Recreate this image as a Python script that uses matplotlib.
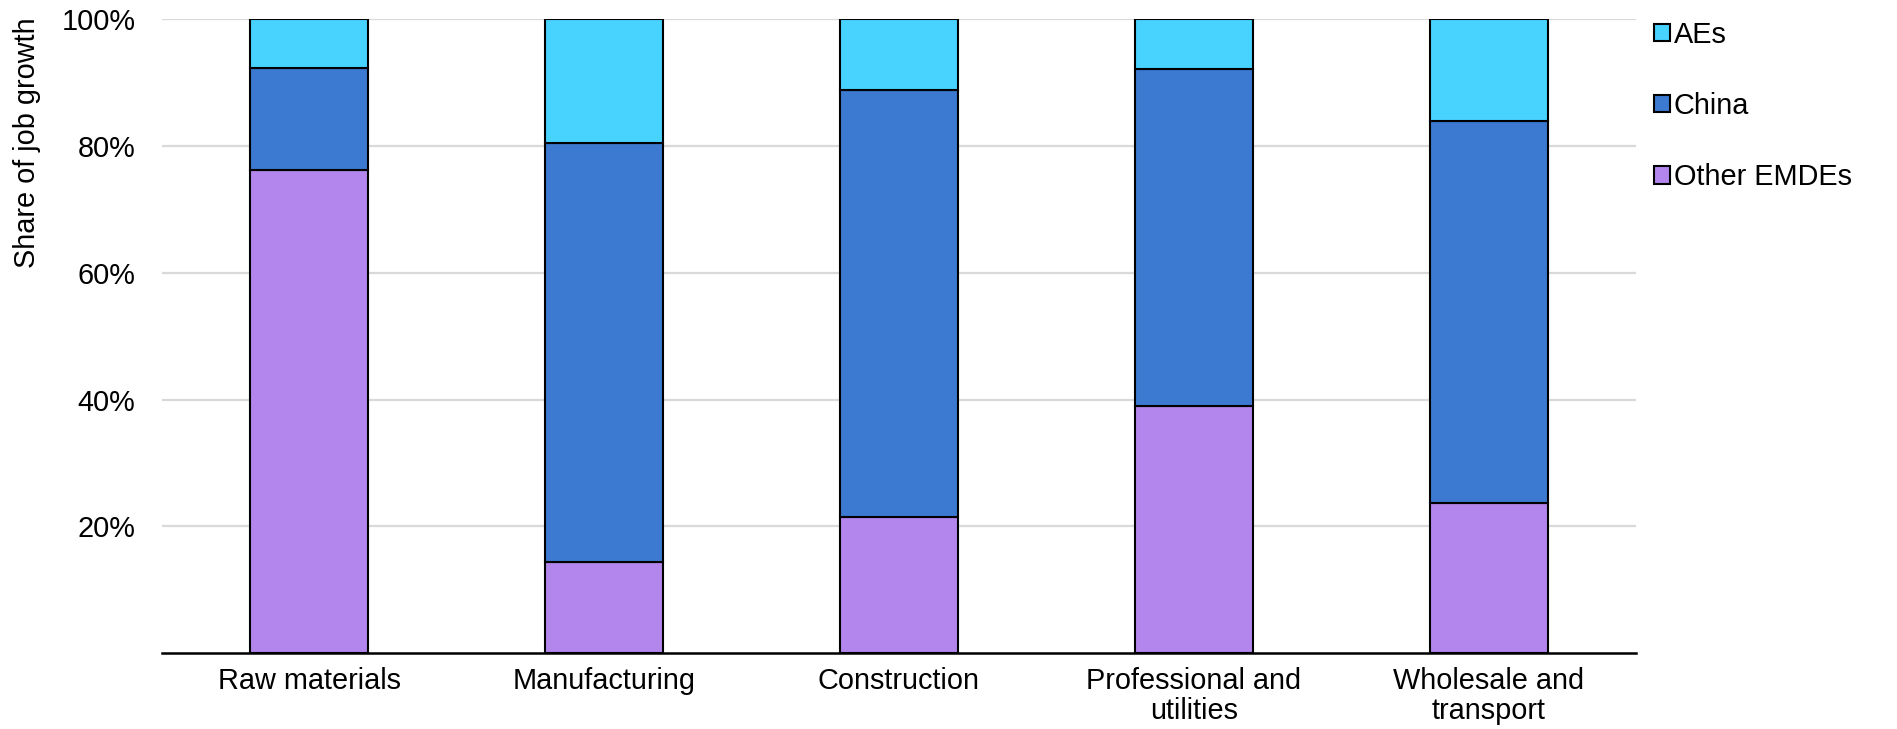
import numpy as np
import matplotlib
matplotlib.use("Agg")
import matplotlib.pyplot as plt
from matplotlib.ticker import FuncFormatter

plt.rcParams['font.family'] = ['Liberation Sans', 'DejaVu Sans']

# data (percent shares)
categories = ["Raw materials", "Manufacturing", "Construction",
              "Professional and\nutilities", "Wholesale and\ntransport"]
other_emdes = [76.3, 14.3, 21.5, 39.0, 23.6]
china = [16.1, 66.2, 67.4, 53.2, 60.3]
aes = [100 - o - c for o, c in zip(other_emdes, china)]

series_names = ["Other EMDEs", "China", "AEs"]
series_colors = ["#B286EC", "#3C79D1", "#48D3FF"]

fig = plt.figure(figsize=(18.97, 7.29), dpi=100)
ax = fig.add_axes([0.0854, 0.1043, 0.8624 - 0.0854, 0.9733 - 0.1043])

x = np.arange(len(categories))
bottom = np.zeros(len(categories))
bars = {}
for name, vals, col in zip(series_names, [other_emdes, china, aes], series_colors):
    bars[name] = ax.bar(x, vals, width=0.4, bottom=bottom, color=col,
                        edgecolor="black", linewidth=1.5, zorder=3, label=name)
    bottom = bottom + np.array(vals)

ax.set_xlim(-0.5, len(categories) - 0.5)
ax.set_ylim(0, 100)
ax.set_yticks([20, 40, 60, 80, 100])
ax.yaxis.set_major_formatter(FuncFormatter(lambda v, p: f"{v:.0f}%"))
ax.grid(axis="y", color="#d9d9d9", linewidth=1.6, zorder=0)
ax.set_axisbelow(True)

ax.set_xticks(x)
ax.set_xticklabels(categories, linespacing=1.1)
ax.tick_params(axis="x", length=0, pad=10, labelsize=20.8)
ax.tick_params(axis="y", length=0, pad=19, labelsize=20.8)

for side in ["top", "right", "left"]:
    ax.spines[side].set_visible(False)
ax.spines["bottom"].set_linewidth(1.8)
ax.spines["bottom"].set_color("black")
ax.spines["bottom"].set_zorder(4)

fig.text(27 / 1897, 1 - 143 / 729, "Share of job growth", rotation=90,
         ha="center", va="center", fontsize=20.8)

# legend, top entry first
handles = [bars["AEs"], bars["China"], bars["Other EMDEs"]]
leg = ax.legend(handles, ["AEs", "China", "Other EMDEs"],
                loc="upper left", bbox_to_anchor=(1.0065, 1.012),
                frameon=False, fontsize=20.8, handlelength=0.55,
                handleheight=0.55, handletextpad=0.12, labelspacing=1.5,
                borderaxespad=0.0, borderpad=0.3)

fig.savefig("out.png", dpi=100)
